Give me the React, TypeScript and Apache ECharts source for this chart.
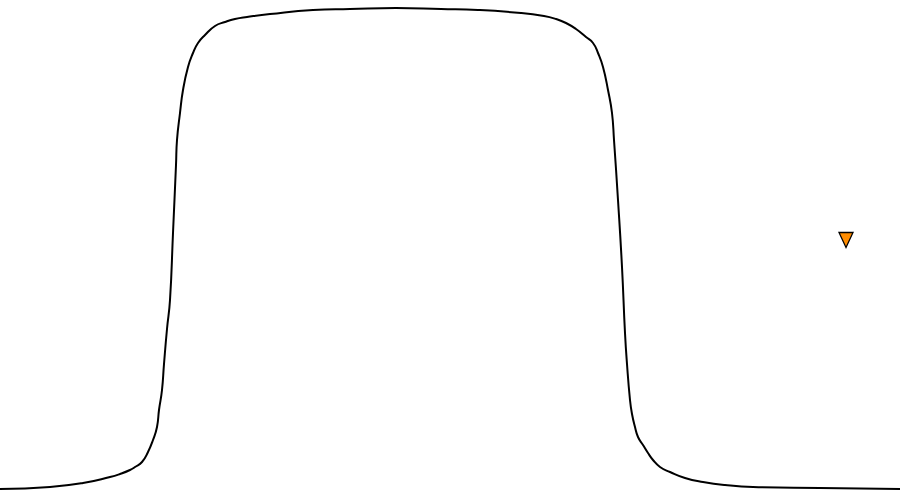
import React, { useEffect, useRef } from "react";
import * as echarts from "echarts";

// curve: x position and height above the baseline
const curveX = [
  0, 50, 83, 110, 120, 130, 135, 142, 148, 153, 157, 159, 162, 164, 167, 170,
  173, 176, 177, 180, 183, 188, 193, 198, 205, 215, 225, 235, 247, 270, 313,
  350, 396, 441, 478, 521, 544, 556, 566, 576, 586, 593, 598, 603, 608, 612,
  614, 618, 622, 625, 627, 630, 632, 635, 638, 643, 648, 653, 660, 670, 685,
  703, 725, 753, 820, 900,
];
const curveY = [
  0, 2, 6, 12, 15, 19, 22, 27, 37, 49, 62, 79, 99, 125, 160, 189,
  256, 324, 349, 376, 399, 422, 436, 446, 454, 463, 467, 470, 472, 475, 479,
  480, 481, 480, 479, 476, 473, 470, 466, 460, 452, 446, 436, 422, 399, 376,
  349, 289, 222, 156, 125, 89, 75, 62, 52, 44, 36, 29, 22, 17, 11,
  7, 4, 2, 1, 0,
];

// the single marker
const markerPoint = [846, 249];

const App = () => {
  const chartRef = useRef<HTMLDivElement>(null);

  useEffect(() => {
    const chartDom = chartRef.current;
    if (!chartDom) return;
    const myChart = echarts.init(chartDom, null, { renderer: "svg" });

    const option = {
      animation: false,
      grid: { left: 0, right: 0, top: 8, bottom: 9 },
      xAxis: { type: "value", min: 0, max: 900, show: false },
      yAxis: { type: "value", min: 0, max: 481, show: false },
      series: [
        {
          type: "line",
          data: curveX.map((x, i) => [x, curveY[i]]),
          smooth: 0.5,
          showSymbol: false,
          lineStyle: { color: "#000", width: 2 },
        },
        {
          type: "scatter",
          data: [markerPoint],
          symbol: "triangle",
          symbolRotate: 180,
          symbolSize: [14, 15],
          itemStyle: {
            color: "#ff8c00",
            opacity: 1,
            borderColor: "#000",
            borderWidth: 1.3,
          },
        },
      ],
    };

    myChart.setOption(option);

    return () => {
      myChart.dispose();
    };
  }, []);

  return (
    <div
      ref={chartRef}
      style={{ position: "fixed", left: 0, top: 0, width: 900, height: 498 }}
    ></div>
  );
};

export default App;
